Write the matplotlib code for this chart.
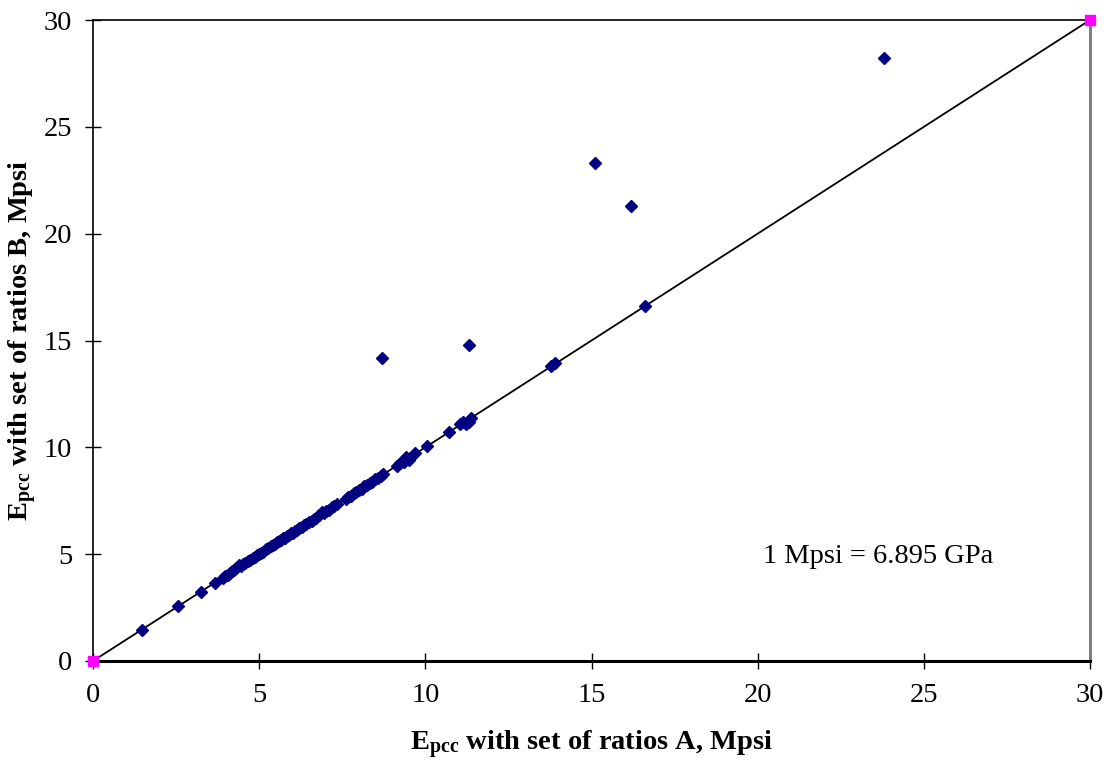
import matplotlib
matplotlib.use("Agg")
import matplotlib.pyplot as plt

# Data: E_pcc with ratio set A (x) vs set B (y), Mpsi
x_vals = [1.48, 2.55, 3.24, 3.67, 3.90, 3.97, 4.05, 4.12, 4.18, 4.25, 4.31, 4.38, 4.45,
          4.50, 4.58, 4.66, 4.72, 4.80, 4.86, 4.93, 5.00, 5.06, 5.12, 5.20, 5.28, 5.35,
          5.41, 5.48, 5.55, 5.60, 5.66, 5.72, 5.78, 5.84, 5.90, 5.95, 6.02, 6.08, 6.15,
          6.21, 6.28, 6.35, 6.42, 6.50, 6.58, 6.64, 6.72, 6.80, 6.88, 6.95, 7.02, 7.10,
          7.18, 7.25, 7.33, 7.60, 7.68, 7.75, 7.84, 7.92, 8.00, 8.08, 8.15, 8.25, 8.33,
          8.41, 8.50, 8.58, 8.66, 8.74, 9.15, 9.25, 9.35, 9.42, 9.52, 9.70, 10.04, 10.70,
          11.05, 11.12, 11.22, 11.30, 11.38, 13.78, 13.90, 16.60,
          8.70, 11.30, 15.10, 16.20, 23.80]
y_vals = [1.47, 2.56, 3.22, 3.66, 3.88, 3.99, 4.03, 4.13, 4.20, 4.24, 4.33, 4.48, 4.46,
          4.52, 4.57, 4.68, 4.71, 4.82, 4.85, 4.94, 4.99, 5.07, 5.11, 5.22, 5.27, 5.36,
          5.45, 5.47, 5.56, 5.62, 5.65, 5.74, 5.77, 5.86, 5.89, 5.97, 6.01, 6.09, 6.14,
          6.23, 6.27, 6.37, 6.41, 6.52, 6.57, 6.66, 6.71, 6.82, 6.98, 6.94, 7.03, 7.09,
          7.20, 7.24, 7.34, 7.58, 7.69, 7.74, 7.86, 7.90, 8.02, 8.07, 8.17, 8.24, 8.35,
          8.40, 8.52, 8.57, 8.68, 8.73, 9.14, 9.27, 9.33, 9.55, 9.40, 9.72, 10.05, 10.72,
          11.10, 11.20, 11.08, 11.18, 11.36, 13.80, 13.95, 16.60,
          14.20, 14.80, 23.30, 21.30, 28.20]

line_x = [0, 30]
line_y = [0, 30]

ticks = [0, 5, 10, 15, 20, 25, 30]

plt.rcParams['font.family'] = ['Liberation Serif', 'DejaVu Serif']
plt.rcParams['mathtext.fontset'] = 'custom'
plt.rcParams['mathtext.rm'] = 'Liberation Serif'
plt.rcParams['mathtext.bf'] = 'Liberation Serif:bold'
plt.rcParams['mathtext.it'] = 'Liberation Serif:italic'

FS = 20.5

fig = plt.figure(figsize=(11.10, 7.68), dpi=100)
ax = fig.add_axes([93/1110, 107/768, (1090-93)/1110, (661-20)/768])

ax.plot(line_x, line_y, color='black', lw=1.3, zorder=2)
ax.plot(x_vals, y_vals, linestyle='none', marker='D', markersize=6,
        color='#000080', markeredgecolor='#000080', zorder=3)
ax.plot(line_x, line_y, linestyle='none', marker='s', markersize=7,
        color='#FF00FF', clip_on=False, zorder=4)

ax.set_xlim(0, 30)
ax.set_ylim(0, 30)
ax.set_xticks(ticks)
ax.set_yticks(ticks)
ax.tick_params(direction='inout', length=11, width=1, labelsize=FS)
ax.tick_params(axis='x', pad=10)
ax.tick_params(axis='y', pad=9.5)

for s in ['top', 'left']:
    ax.spines[s].set_linewidth(1.2)
    ax.spines[s].set_color('black')
ax.spines['bottom'].set_linewidth(2.2)
ax.spines['right'].set_linewidth(2.2)
ax.spines['right'].set_color('#808080')

ax.set_xlabel(r'E$_{\mathbf{pcc}}$ with set of ratios A, Mpsi', fontsize=FS,
              fontweight='bold', va='center')
ax.xaxis.set_label_coords(0.5, (661 - 745) / 641)
ax.set_ylabel(r'E$_{\mathbf{pcc}}$ with set of ratios B, Mpsi', fontsize=FS,
              fontweight='bold', va='center')
ax.yaxis.set_label_coords((23 - 93) / 997, 0.5)

ax.text(20.15, 4.87, '1 Mpsi = 6.895 GPa', fontsize=FS, va='center', ha='left')

fig.savefig('out.png', dpi=100)
